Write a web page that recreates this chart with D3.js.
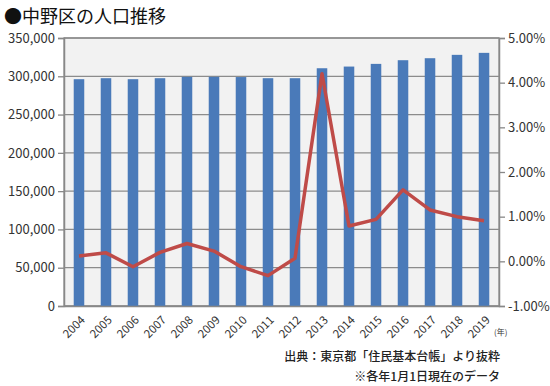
<!DOCTYPE html>
<html>
<head>
<meta charset="utf-8">
<script src="https://cdn.jsdelivr.net/npm/d3@7"></script>
<style>
  body { margin: 0; background: #fff; }
  text { font-family: "Noto Sans CJK JP", "Noto Sans", sans-serif; }
</style>
</head>
<body>
<div id="chart"></div>
<script>
// years, population (bars, left axis) and growth rate in % (line, right axis)
var years = ["2004","2005","2006","2007","2008","2009","2010","2011","2012","2013","2014","2015","2016","2017","2018","2019"];
var population = [296200, 297500, 296200, 297500, 299300, 299300, 299000, 297500, 297500, 310500, 312700, 316200, 321000, 323600, 328000, 330600];
var growth = [0.12, 0.19, -0.12, 0.2, 0.4, 0.23, -0.12, -0.32, 0.07, 4.2, 0.79, 0.94, 1.6, 1.15, 1.0, 0.91];
var leftTicks = [0, 50000, 100000, 150000, 200000, 250000, 300000, 350000];
var rightTicks = [-1, 0, 1, 2, 3, 4, 5];

var W = 550, H = 386;
var margin = {top: 38, right: 51, bottom: 80, left: 64};
var w = W - margin.left - margin.right,
    h = H - margin.top - margin.bottom;

var svg = d3.select("#chart").append("svg")
    .attr("width", W)
    .attr("height", H);

// title
svg.append("text")
    .attr("x", 4)
    .attr("y", 23)
    .attr("font-size", 18)
    .attr("fill", "#111")
    .text("●中野区の人口推移");

var g = svg.append("g")
    .attr("transform", "translate(" + margin.left + "," + margin.top + ")");

var x = d3.scaleBand().domain(years).range([0, w]).paddingInner(0.61).paddingOuter(0.36);
var yL = d3.scaleLinear().domain([0, 350000]).range([h, 0]);
var yR = d3.scaleLinear().domain([-1, 5]).range([h, 0]);

// plot background
g.append("rect")
    .attr("width", w)
    .attr("height", h)
    .attr("fill", "#f2f2f2")
    .attr("stroke", "#a0a0a0")
    .attr("stroke-width", 1.5);

// gridlines
g.selectAll(".grid")
    .data(leftTicks)
    .enter().append("line")
    .attr("x1", 0)
    .attr("x2", w)
    .attr("y1", d => yL(d))
    .attr("y2", d => yL(d))
    .attr("stroke", "#8c8c8c")
    .attr("stroke-width", 1.3);

// bars
g.selectAll(".bar")
    .data(population)
    .enter().append("rect")
    .attr("x", (d, i) => x(years[i]))
    .attr("y", d => yL(d))
    .attr("width", x.bandwidth())
    .attr("height", d => h - yL(d))
    .attr("fill", "#4a7ab9");

// line
var line = d3.line()
    .x((d, i) => x(years[i]) + x.bandwidth() / 2)
    .y(d => yR(d));

g.append("path")
    .datum(growth)
    .attr("d", line)
    .attr("fill", "none")
    .attr("stroke", "#bf4b48")
    .attr("stroke-width", 3.5)
    .attr("stroke-linejoin", "round");

// left axis
var axL = g.append("g")
    .call(d3.axisLeft(yL).tickValues(leftTicks).tickSize(6).tickFormat(d3.format(",")));
axL.select(".domain").attr("stroke", "#888").attr("stroke-width", 1.5);
axL.selectAll(".tick line").attr("stroke", "#888").attr("stroke-width", 1.3);
axL.selectAll("text").attr("font-size", 13).attr("fill", "#333")
    .attr("font-family", "Lato, 'Noto Sans', sans-serif").attr("x", -9);

// right axis
var axR = g.append("g")
    .attr("transform", "translate(" + w + ",0)")
    .call(d3.axisRight(yR).tickValues(rightTicks).tickSize(6).tickFormat(d => d.toFixed(2) + "%"));
axR.select(".domain").attr("stroke", "#888").attr("stroke-width", 1.5);
axR.selectAll(".tick line").attr("stroke", "#888").attr("stroke-width", 1.3);
axR.selectAll("text").attr("font-size", 13).attr("fill", "#333")
    .attr("font-family", "Lato, 'Noto Sans', sans-serif").attr("x", 9);

// bottom axis
var axB = g.append("g")
    .attr("transform", "translate(0," + h + ")")
    .call(d3.axisBottom(x).tickSize(0));
axB.select(".domain").attr("stroke", "#888").attr("stroke-width", 1.5);
axB.selectAll("text")
    .attr("font-size", 11.5)
    .attr("fill", "#333")
    .attr("font-family", "Lato, 'Noto Sans', sans-serif")
    .attr("text-anchor", "end")
    .attr("x", 0)
    .attr("y", 0)
    .attr("dy", "0.7em")
    .attr("transform", "translate(1,9) rotate(-45)");

// unit label
svg.append("text")
    .attr("x", 494)
    .attr("y", 335)
    .attr("font-size", 8)
    .attr("fill", "#333")
    .text("(年)");

// source notes
svg.append("text")
    .attr("x", 500)
    .attr("y", 361)
    .attr("text-anchor", "end")
    .attr("font-size", 12)
    .attr("font-weight", 500)
    .attr("fill", "#222")
    .text("出典：東京都「住民基本台帳」より抜粋");

svg.append("text")
    .attr("x", 500)
    .attr("y", 381)
    .attr("text-anchor", "end")
    .attr("font-size", 12)
    .attr("font-weight", 500)
    .attr("fill", "#222")
    .text("※各年1月1日現在のデータ");
</script>
</body>
</html>
